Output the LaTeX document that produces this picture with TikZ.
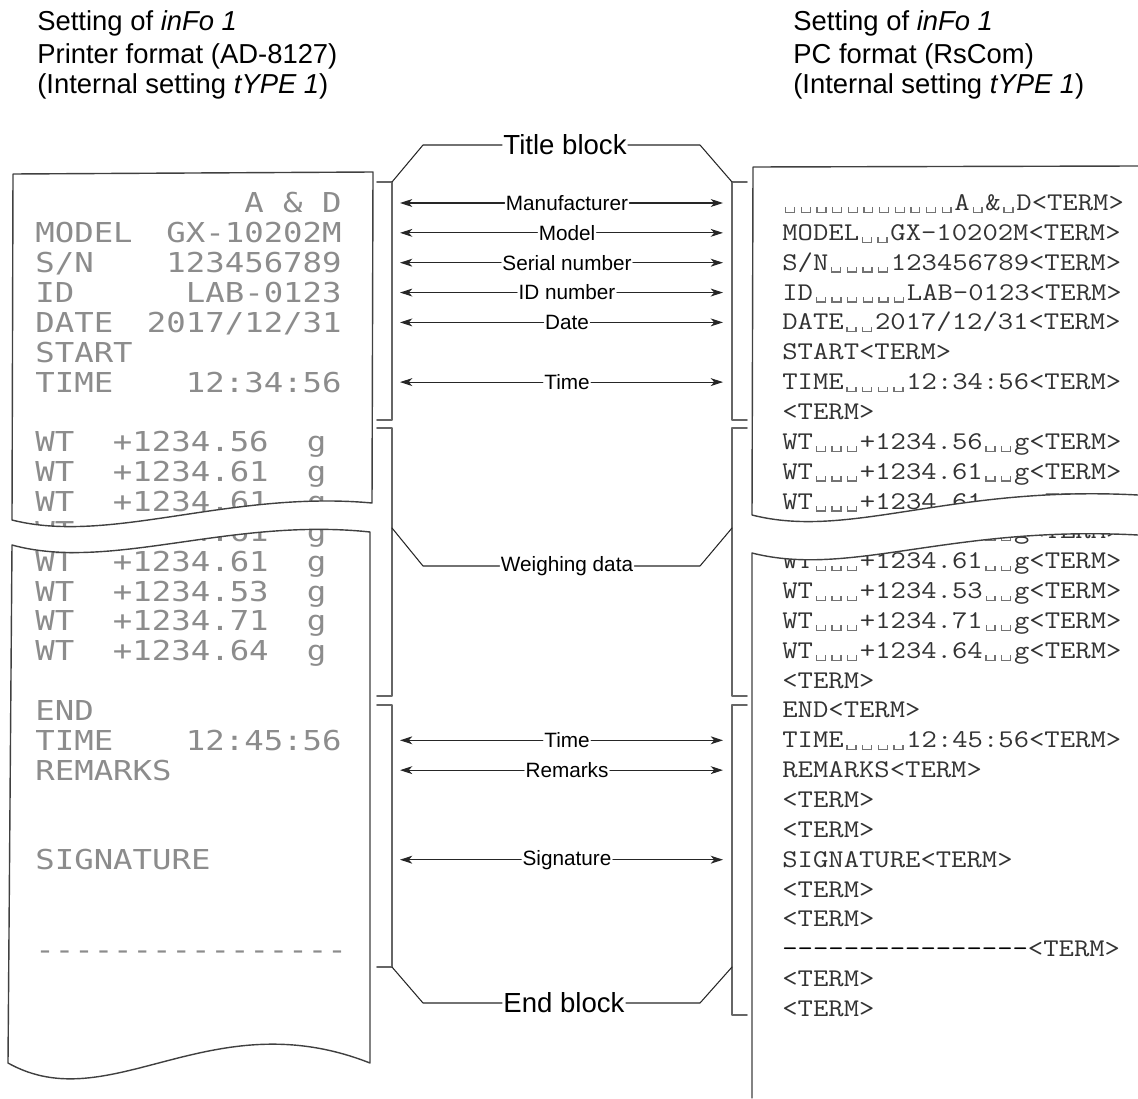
\documentclass[tikz,border=0pt]{standalone}
\usepackage{fontspec}
\setmainfont{Liberation Sans}
\newfontfamily\dotfont[FakeStretch=1.18]{DejaVu Sans Mono}
\newfontfamily\pcfont[FakeStretch=1.17]{Latin Modern Mono}
\usetikzlibrary{arrows.meta}

% space marker of the PC output
\newcommand\blank{\makebox[0.614em][c]{\color{black!55}%
  \rule[-0.1em]{0.05em}{0.22em}\rule[-0.1em]{0.3em}{0.05em}\rule[-0.1em]{0.05em}{0.22em}}}
% display characters of the balance
\newcommand\segtxt[1]{{\itshape #1}}

\begin{document}
\begin{tikzpicture}[
  x=0.02cm, y=-0.02cm,
    line cap=round,
    line join=round,
    paper/.style={draw=black!75, line width=0.8pt},
    bracket/.style={draw=black!60, line width=0.9pt},
    leader/.style={draw=black!85, line width=0.6pt},
    fieldarrow/.style={-{Stealth[length=7pt, width=4.5pt, inset=2pt]},
    line width=0.6pt, black!85},
    hdr/.style={anchor=base west, inner sep=0pt, font=\fontsize{15.6}{18}\selectfont},
    dotrow/.style={inner sep=0pt, text=black!45, font=\dotfont\fontsize{15.6}{18}\selectfont},
    pcrow/.style={anchor=base west, inner sep=0pt, text=black!80,
    font=\pcfont\fontsize{14.5}{17}\selectfont},
    field/.style={inner sep=0.6pt, font=\fontsize{11.8}{14}\selectfont},
    block/.style={inner sep=0.6pt, font=\fontsize{15.7}{18}\selectfont}
  ]

\useasboundingbox (0,0) rectangle (1138,1098);

% common row geometry so both printouts use the same lines
\def\p{29.85}
\def\lb{213}
\def\rb{210.5}
\def\rc{203}

% ============================================================
% HEADERS
% ============================================================
\node[hdr] (lh1) at (37,31) {Setting of \segtxt{inFo 1}};
\node[hdr] (lh2) at (37,64) {Printer format (AD-8127)};
\node[hdr] (lh3) at (37,94) {(Internal setting \segtxt{tYPE 1})};

\node[hdr] (rh1) at (793,31) {Setting of \segtxt{inFo 1}};
\node[hdr] (rh2) at (793,64) {PC format (RsCom)};
\node[hdr] (rh3) at (793,94) {(Internal setting \segtxt{tYPE 1})};

% ============================================================
% LEFT: printer output (AD-8127)
% ============================================================
\begin{scope}
  \node[dotrow, anchor=base east] (la0) at (342,{\lb+0*\p}) {A~\&~D};
  \node[dotrow, anchor=base west] (lm1) at (35,{\lb+1*\p}) {MODEL};
  \node[dotrow, anchor=base east] (lv1) at (342,{\lb+1*\p}) {GX-10202M};
  \node[dotrow, anchor=base west] (lm2) at (35,{\lb+2*\p}) {S/N};
  \node[dotrow, anchor=base east] (lv2) at (342,{\lb+2*\p}) {123456789};
  \node[dotrow, anchor=base west] (lm3) at (35,{\lb+3*\p}) {ID};
  \node[dotrow, anchor=base east] (lv3) at (342,{\lb+3*\p}) {LAB-0123};
  \node[dotrow, anchor=base west] (lm4) at (35,{\lb+4*\p}) {DATE};
  \node[dotrow, anchor=base east] (lv4) at (342,{\lb+4*\p}) {2017/12/31};
  \node[dotrow, anchor=base west] (lm5) at (35,{\lb+5*\p}) {START};
  \node[dotrow, anchor=base west] (lm6) at (35,{\lb+6*\p}) {TIME};
  \node[dotrow, anchor=base east] (lv6) at (342,{\lb+6*\p}) {12:34:56};

  % weighing rows
  \node[dotrow, anchor=base west] (lm8) at (35,{\lb+8*\p}) {WT};
  \node[dotrow, anchor=base west] (lv8) at (112.6,{\lb+8*\p}) {+1234.56};
  \node[dotrow, anchor=base west] (lu8) at (306.6,{\lb+8*\p}) {g};
  \node[dotrow, anchor=base west] (lm9) at (35,{\lb+9*\p}) {WT};
  \node[dotrow, anchor=base west] (lv9) at (112.6,{\lb+9*\p}) {+1234.61};
  \node[dotrow, anchor=base west] (lu9) at (306.6,{\lb+9*\p}) {g};
  \node[dotrow, anchor=base west] (lm10) at (35,{\lb+10*\p}) {WT};
  \node[dotrow, anchor=base west] (lv10) at (112.6,{\lb+10*\p}) {+1234.61};
  \node[dotrow, anchor=base west] (lu10) at (306.6,{\lb+10*\p}) {g};
  \node[dotrow, anchor=base west] (lm11) at (35,{\lb+11*\p}) {WT};
  \node[dotrow, anchor=base west] (lv11) at (112.6,{\lb+11*\p}) {+1234.61};
  \node[dotrow, anchor=base west] (lu11) at (306.6,{\lb+11*\p}) {g};
  \node[dotrow, anchor=base west] (lm12) at (35,{\lb+12*\p}) {WT};
  \node[dotrow, anchor=base west] (lv12) at (112.6,{\lb+12*\p}) {+1234.61};
  \node[dotrow, anchor=base west] (lu12) at (306.6,{\lb+12*\p}) {g};
  \node[dotrow, anchor=base west] (lm13) at (35,{\lb+13*\p}) {WT};
  \node[dotrow, anchor=base west] (lv13) at (112.6,{\lb+13*\p}) {+1234.53};
  \node[dotrow, anchor=base west] (lu13) at (306.6,{\lb+13*\p}) {g};
  \node[dotrow, anchor=base west] (lm14) at (35,{\lb+14*\p}) {WT};
  \node[dotrow, anchor=base west] (lv14) at (112.6,{\lb+14*\p}) {+1234.71};
  \node[dotrow, anchor=base west] (lu14) at (306.6,{\lb+14*\p}) {g};
  \node[dotrow, anchor=base west] (lm15) at (35,{\lb+15*\p}) {WT};
  \node[dotrow, anchor=base west] (lv15) at (112.6,{\lb+15*\p}) {+1234.64};
  \node[dotrow, anchor=base west] (lu15) at (306.6,{\lb+15*\p}) {g};

  % end rows
  \node[dotrow, anchor=base west] (lm17) at (35,{\lb+17*\p}) {END};
  \node[dotrow, anchor=base west] (lm18) at (35,{\lb+18*\p}) {TIME};
  \node[dotrow, anchor=base east] (lv18) at (342,{\lb+18*\p}) {12:45:56};
  \node[dotrow, anchor=base west] (lm19) at (35,{\lb+19*\p}) {REMARKS};
  \node[dotrow, anchor=base west] (lm22) at (35,{\lb+22*\p}) {SIGNATURE};
  \node[dotrow, anchor=base west] (lm25) at (35,{\lb+25*\p})
    {-{}-{}-{}-{}-{}-{}-{}-{}-{}-{}-{}-{}-{}-{}-{}-{}};

  % gap of the torn paper
  \fill[white] (12,520) .. controls (110,545) and (230,490) .. (372,503)
    -- (370,532) .. controls (230,517) and (110,572) .. (12,545) -- cycle;

  % paper outline
  \draw[paper] (12,520) .. controls (110,545) and (230,490) .. (372,503)
    -- (373,172) -- (13,174) -- cycle;
  \draw[paper] (12,545) .. controls (110,572) and (230,517) .. (370,532)
    -- (370,1063) .. controls (210,1000) and (110,1120) .. (8,1063) -- cycle;
\end{scope}

% ============================================================
% RIGHT: PC output (RsCom)
% ============================================================
\begin{scope}[shift={(782,0)}]
  \node[pcrow] (r0) at (0,{\rb+0*\p})
    {\blank\blank\blank\blank\blank\blank\blank\blank\blank\blank\blank A\blank\&\blank D<TERM>};
  \node[pcrow] (r1) at (0,{\rb+1*\p}) {MODEL\blank\blank GX-10202M<TERM>};
  \node[pcrow] (r2) at (0,{\rb+2*\p}) {S/N\blank\blank\blank\blank 123456789<TERM>};
  \node[pcrow] (r3) at (0,{\rb+3*\p}) {ID\blank\blank\blank\blank\blank\blank LAB-0123<TERM>};
  \node[pcrow] (r4) at (0,{\rb+4*\p}) {DATE\blank\blank 2017/12/31<TERM>};
  \node[pcrow] (r5) at (0,{\rb+5*\p}) {START<TERM>};
  \node[pcrow] (r6) at (0,{\rb+6*\p}) {TIME\blank\blank\blank\blank 12:34:56<TERM>};
  \node[pcrow] (r7) at (0,{\rb+7*\p}) {<TERM>};
  \node[pcrow] (r8) at (0,{\rb+8*\p}) {WT\blank\blank\blank+1234.56\blank\blank g<TERM>};
  \node[pcrow] (r9) at (0,{\rb+9*\p}) {WT\blank\blank\blank+1234.61\blank\blank g<TERM>};
  \node[pcrow] (r10) at (0,{\rb+10*\p}) {WT\blank\blank\blank+1234.61\blank\blank g<TERM>};
  \node[pcrow] (r11) at (0,{\rb+11*\p}) {WT\blank\blank\blank+1234.61\blank\blank g<TERM>};
  \node[pcrow] (r12) at (0,{\rb+12*\p}) {WT\blank\blank\blank+1234.61\blank\blank g<TERM>};
  \node[pcrow] (r13) at (0,{\rb+13*\p}) {WT\blank\blank\blank+1234.53\blank\blank g<TERM>};
  \node[pcrow] (r14) at (0,{\rb+14*\p}) {WT\blank\blank\blank+1234.71\blank\blank g<TERM>};
  \node[pcrow] (r15) at (0,{\rb+15*\p}) {WT\blank\blank\blank+1234.64\blank\blank g<TERM>};
  \node[pcrow] (r16) at (0,{\rb+16*\p}) {<TERM>};
  \node[pcrow] (r17) at (0,{\rb+17*\p}) {END<TERM>};
  \node[pcrow] (r18) at (0,{\rb+18*\p}) {TIME\blank\blank\blank\blank 12:45:56<TERM>};
  \node[pcrow] (r19) at (0,{\rb+19*\p}) {REMARKS<TERM>};
  \node[pcrow] (r20) at (0,{\rb+20*\p}) {<TERM>};
  \node[pcrow] (r21) at (0,{\rb+21*\p}) {<TERM>};
  \node[pcrow] (r22) at (0,{\rb+22*\p}) {SIGNATURE<TERM>};
  \node[pcrow] (r23) at (0,{\rb+23*\p}) {<TERM>};
  \node[pcrow] (r24) at (0,{\rb+24*\p}) {<TERM>};
  \node[pcrow] (r25) at (0,{\rb+25*\p})
    {{\color{black}\bfseries -{}-{}-{}-{}-{}-{}-{}-{}-{}-{}-{}-{}-{}-{}-{}-{}}<TERM>};
  \node[pcrow] (r26) at (0,{\rb+26*\p}) {<TERM>};
  \node[pcrow] (r27) at (0,{\rb+27*\p}) {<TERM>};
\end{scope}

% gap of the torn paper
\fill[white] (752,515) .. controls (850,540) and (950,485) .. (1138,495)
  -- (1138,535) .. controls (950,525) and (850,578) .. (752,553) -- cycle;

% paper outline (runs off the right edge)
\draw[paper] (1138,495) .. controls (950,485) and (850,540) .. (752,515)
  -- (753,167) -- (1138,166);
\draw[paper] (1138,535) .. controls (950,525) and (850,578) .. (752,553)
  -- (752,1098);

% ============================================================
% MIDDLE: blocks and fields
% ============================================================
% brackets at the printouts
\draw[bracket] (377,182) -| (392,420) -- (377,420);
\draw[bracket] (377,428) -| (392,696) -- (377,696);
\draw[bracket] (377,705) -| (392,967) -- (377,967);
\draw[bracket] (747,182) -| (732,420) -- (747,420);
\draw[bracket] (747,428) -| (732,696) -- (747,696);
\draw[bracket] (747,705) -| (732,1015) -- (747,1015);

% block names
\node[block] (ttl) at (565,145) {Title block};
\draw[leader] (ttl.west) -- (423,145) -- (392,182);
\draw[leader] (ttl.east) -- (700,145) -- (732,182);

\node[field] (wgh) at (567,566) {Weighing data};
\draw[leader] (wgh.west) -- (423,566) -- (392,528);
\draw[leader] (wgh.east) -- (700,566) -- (732,528);

\node[block] (endb) at (564,1003) {End block};
\draw[leader] (endb.west) -- (423,1003) -- (392,967);
\draw[leader] (endb.east) -- (700,1003) -- (732,967);

% field arrows, one per printed line
\node[field] (manu) at (567,{\rc+0*\p}) {Manufacturer};
\coordinate (manuL) at (400,{\rc+0*\p});
\coordinate (manuR) at (723,{\rc+0*\p});
\draw[fieldarrow] (manu.west) -- (manuL);
\draw[fieldarrow] (manu.east) -- (manuR);

\node[field] (modl) at (567,{\rc+1*\p}) {Model};
\coordinate (modlL) at (400,{\rc+1*\p});
\coordinate (modlR) at (723,{\rc+1*\p});
\draw[fieldarrow] (modl.west) -- (modlL);
\draw[fieldarrow] (modl.east) -- (modlR);

\node[field] (sern) at (567,{\rc+2*\p}) {Serial number};
\coordinate (sernL) at (400,{\rc+2*\p});
\coordinate (sernR) at (723,{\rc+2*\p});
\draw[fieldarrow] (sern.west) -- (sernL);
\draw[fieldarrow] (sern.east) -- (sernR);

\node[field] (idno) at (567,{\rc+3*\p}) {ID number};
\coordinate (idnoL) at (400,{\rc+3*\p});
\coordinate (idnoR) at (723,{\rc+3*\p});
\draw[fieldarrow] (idno.west) -- (idnoL);
\draw[fieldarrow] (idno.east) -- (idnoR);

\node[field] (date) at (567,{\rc+4*\p}) {Date};
\coordinate (dateL) at (400,{\rc+4*\p});
\coordinate (dateR) at (723,{\rc+4*\p});
\draw[fieldarrow] (date.west) -- (dateL);
\draw[fieldarrow] (date.east) -- (dateR);

\node[field] (tbeg) at (567,{\rc+6*\p}) {Time};
\coordinate (tbegL) at (400,{\rc+6*\p});
\coordinate (tbegR) at (723,{\rc+6*\p});
\draw[fieldarrow] (tbeg.west) -- (tbegL);
\draw[fieldarrow] (tbeg.east) -- (tbegR);

\node[field] (tend) at (567,{\rc+18*\p}) {Time};
\coordinate (tendL) at (400,{\rc+18*\p});
\coordinate (tendR) at (723,{\rc+18*\p});
\draw[fieldarrow] (tend.west) -- (tendL);
\draw[fieldarrow] (tend.east) -- (tendR);

\node[field] (rmks) at (567,{\rc+19*\p}) {Remarks};
\coordinate (rmksL) at (400,{\rc+19*\p});
\coordinate (rmksR) at (723,{\rc+19*\p});
\draw[fieldarrow] (rmks.west) -- (rmksL);
\draw[fieldarrow] (rmks.east) -- (rmksR);

\node[field] (sign) at (567,{\rc+22*\p}) {Signature};
\coordinate (signL) at (400,{\rc+22*\p});
\coordinate (signR) at (723,{\rc+22*\p});
\draw[fieldarrow] (sign.west) -- (signL);
\draw[fieldarrow] (sign.east) -- (signR);

\end{tikzpicture}
\end{document}
